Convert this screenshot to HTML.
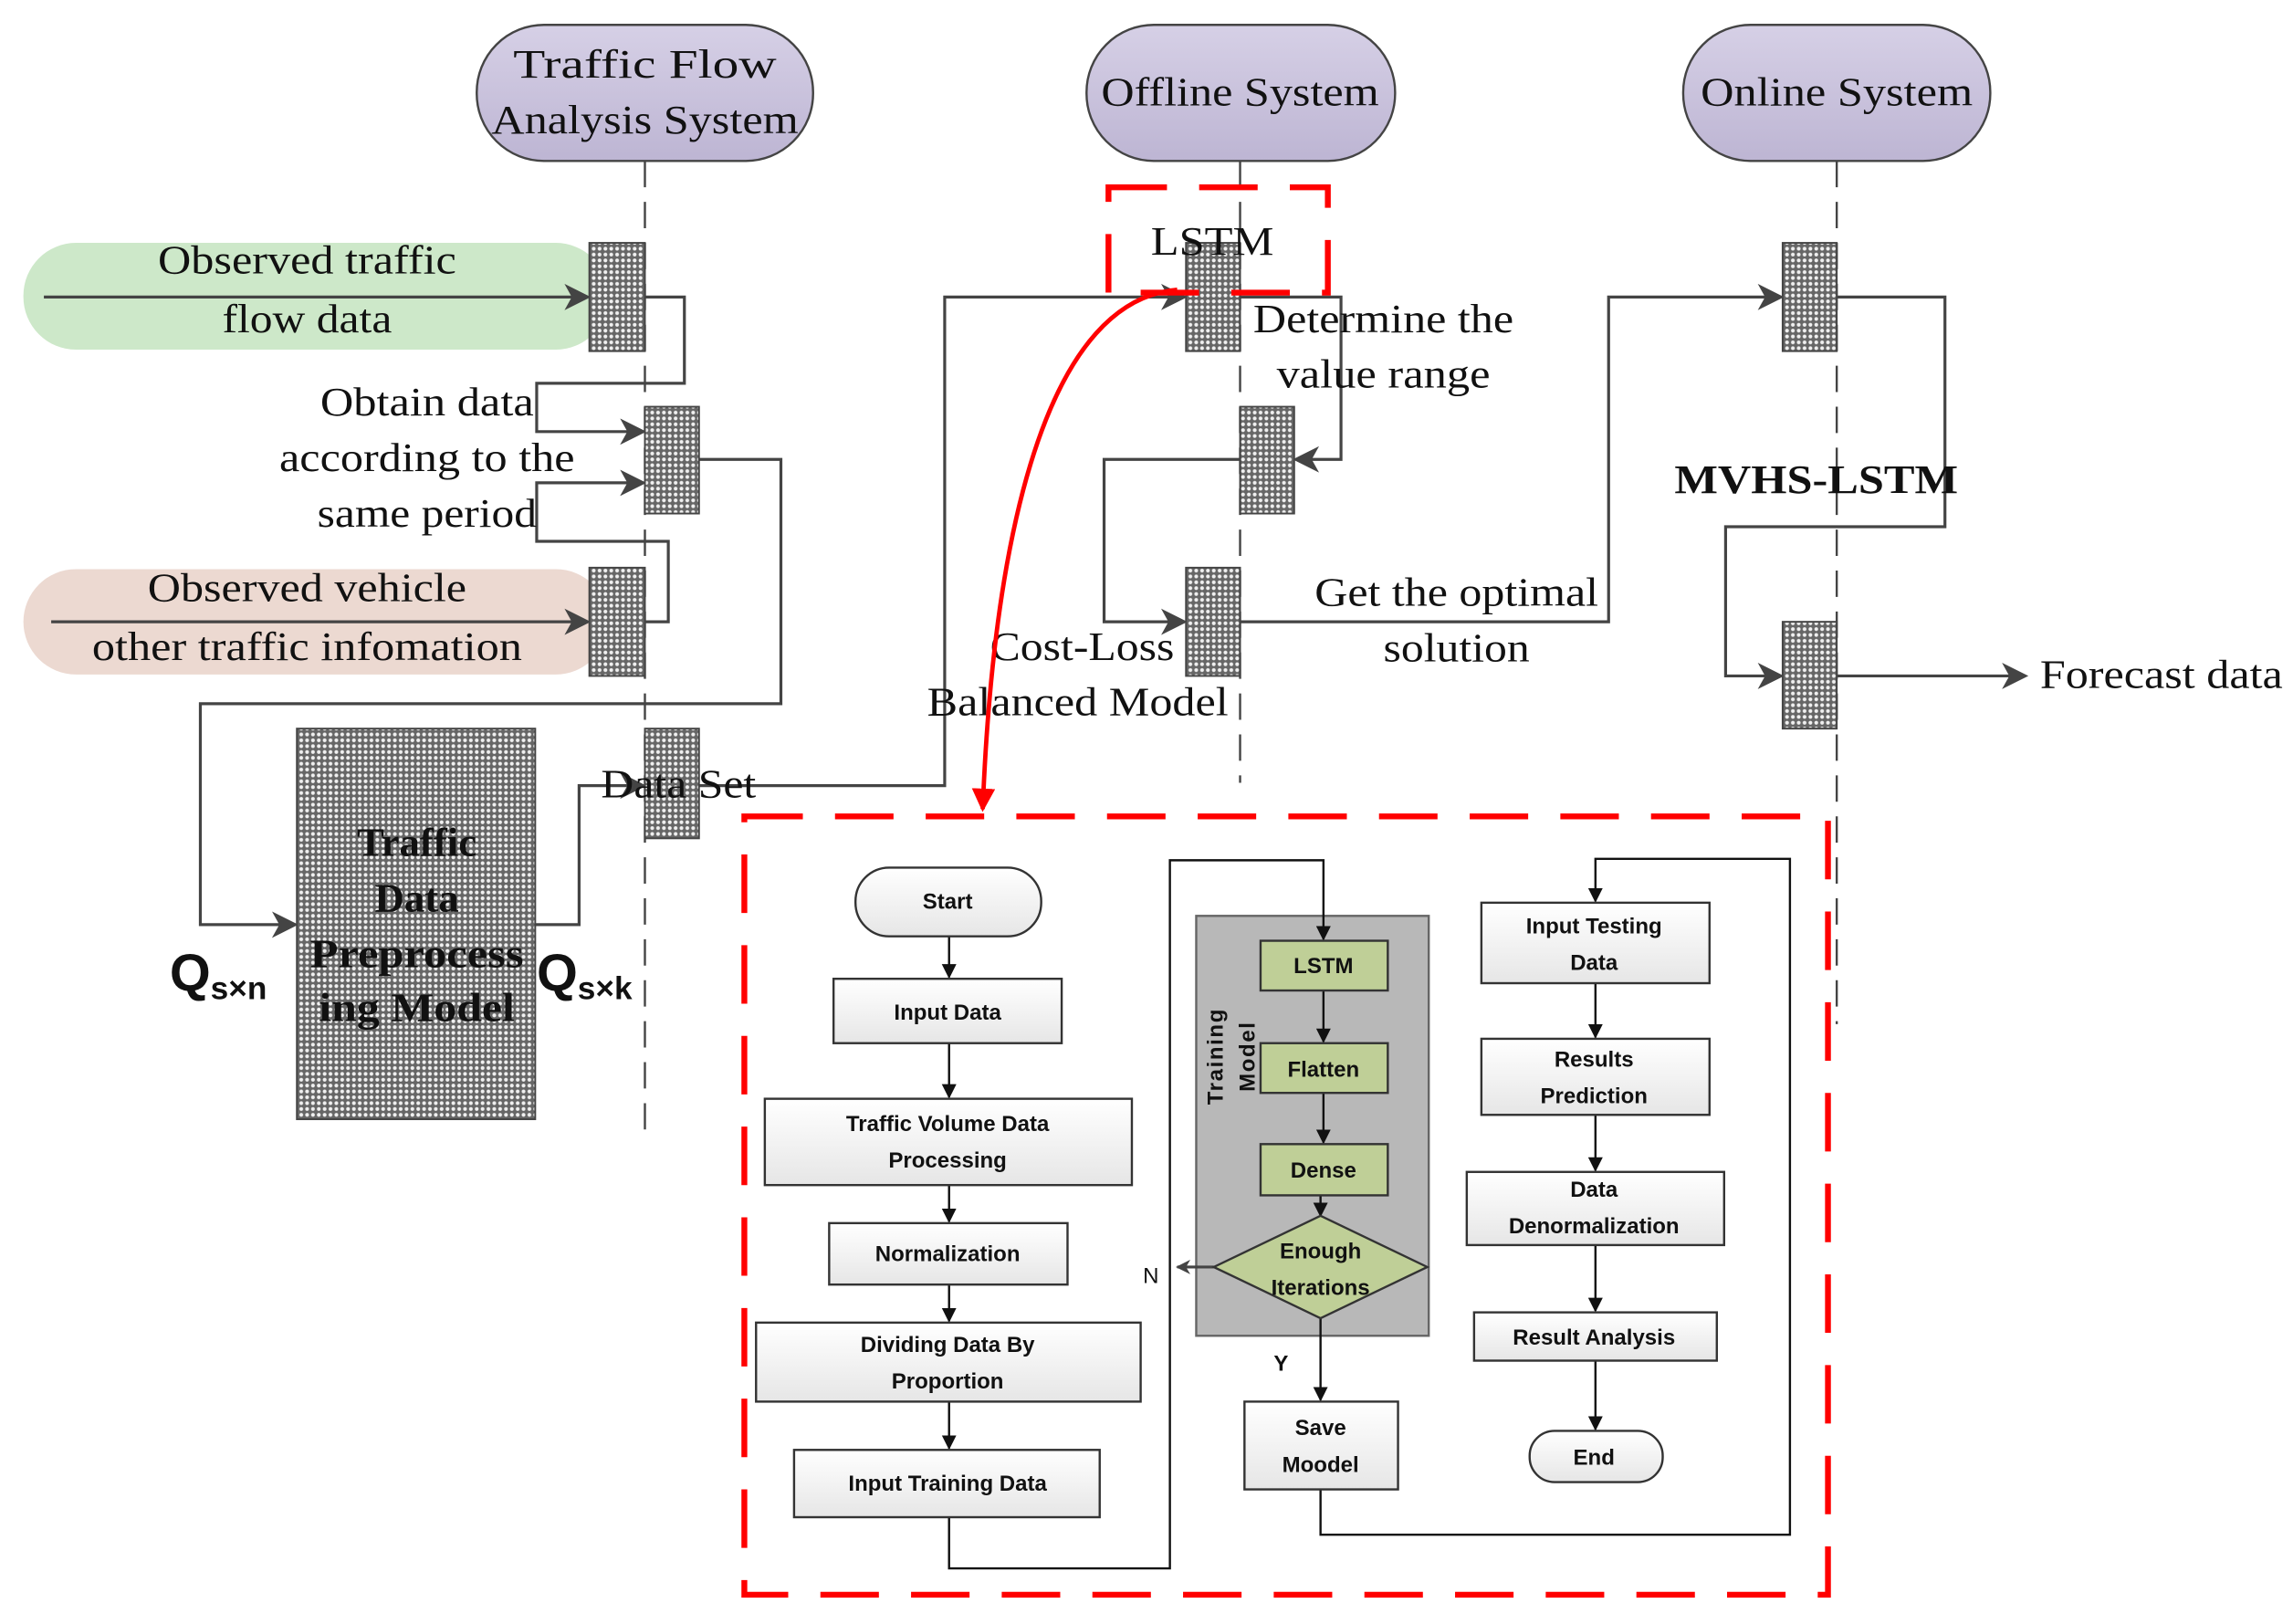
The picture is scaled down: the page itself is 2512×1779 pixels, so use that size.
<!DOCTYPE html>
<html><head><meta charset="utf-8"><style>
html,body{margin:0;padding:0;background:#fff;width:2512px;height:1779px;overflow:hidden}
svg{display:block}
.s{font-family:"Liberation Serif",serif;fill:#111}
.f{font-family:"Liberation Sans",sans-serif;font-weight:bold;fill:#111;font-size:15px}
</style></head><body>
<svg width="2512" height="1779" viewBox="0 0 1568 1110" preserveAspectRatio="none" xmlns="http://www.w3.org/2000/svg">
<defs>
<pattern id="dots" width="4" height="4" patternUnits="userSpaceOnUse">
<rect width="4" height="4" fill="#666"/><circle cx="2" cy="2" r="1.3" fill="#f0f0f0"/>
</pattern>
<linearGradient id="pur" x1="0" y1="0" x2="0" y2="1"><stop offset="0" stop-color="#d6d0e6"/><stop offset="1" stop-color="#bdb5d3"/></linearGradient>
<linearGradient id="wb" x1="0" y1="0" x2="0" y2="1"><stop offset="0" stop-color="#ffffff"/><stop offset="1" stop-color="#e6e6e6"/></linearGradient>
<marker id="ar" markerWidth="10" markerHeight="10" refX="9" refY="5" orient="auto" markerUnits="userSpaceOnUse"><path d="M0,0 L10,5 L0,10 L3,5 Z" fill="#444"/></marker>
<marker id="ab" markerWidth="10" markerHeight="10" refX="9" refY="5" orient="auto" markerUnits="userSpaceOnUse"><path d="M0,0 L10,5 L0,10 Z" fill="#111"/></marker>
<marker id="ar2" markerWidth="18" markerHeight="18" refX="16" refY="9" orient="auto" markerUnits="userSpaceOnUse"><path d="M0,0 L18,9 L0,18 L5,9 Z" fill="#444"/></marker>
<marker id="rr" markerWidth="16" markerHeight="16" refX="14" refY="8" orient="auto" markerUnits="userSpaceOnUse"><path d="M0,0 L16,8 L0,16 Z" fill="#f00"/></marker>
</defs>

<rect x="326" y="17" width="230" height="93" rx="46" fill="url(#pur)" stroke="#444" stroke-width="1.5"/>
<text class="s" x="441" y="53" font-size="28" text-anchor="middle" textLength="180" lengthAdjust="spacingAndGlyphs">Traffic Flow</text>
<text class="s" x="441" y="91" font-size="28" text-anchor="middle" textLength="210" lengthAdjust="spacingAndGlyphs">Analysis System</text>
<rect x="743" y="17" width="211" height="93" rx="46" fill="url(#pur)" stroke="#444" stroke-width="1.5"/>
<text class="s" x="848" y="72" font-size="28" text-anchor="middle" textLength="190" lengthAdjust="spacingAndGlyphs">Offline System</text>
<rect x="1151" y="17" width="210" height="93" rx="46" fill="url(#pur)" stroke="#444" stroke-width="1.5"/>
<text class="s" x="1256" y="72" font-size="28" text-anchor="middle" textLength="186" lengthAdjust="spacingAndGlyphs">Online System</text>

<g stroke="#444" stroke-width="1.5" stroke-dasharray="18,10" fill="none">
<line x1="441" y1="110" x2="441" y2="775"/>
<line x1="848" y1="110" x2="848" y2="535"/>
<line x1="1256" y1="110" x2="1256" y2="700"/>
</g>

<rect x="16" y="166" width="400" height="73" rx="36" fill="#cde8c9"/>
<rect x="16" y="389" width="400" height="72" rx="36" fill="#ecd9d1"/>
<text class="s" x="210" y="187" font-size="28" text-anchor="middle" textLength="204" lengthAdjust="spacingAndGlyphs">Observed traffic</text>
<text class="s" x="210" y="227" font-size="28" text-anchor="middle" textLength="116" lengthAdjust="spacingAndGlyphs">flow data</text>
<text class="s" x="210" y="411" font-size="28" text-anchor="middle" textLength="218" lengthAdjust="spacingAndGlyphs">Observed vehicle</text>
<text class="s" x="210" y="451" font-size="28" text-anchor="middle" textLength="294" lengthAdjust="spacingAndGlyphs">other traffic infomation</text>

<g stroke="#444" stroke-width="2" fill="none">
<line x1="30" y1="203" x2="402" y2="203" marker-end="url(#ar2)"/>
<line x1="35" y1="425" x2="402" y2="425" marker-end="url(#ar2)"/>
<polyline points="441,203 468,203 468,262 367,262 367,295 440,295" marker-end="url(#ar2)"/>
<polyline points="441,425 457,425 457,370 367,370 367,330 440,330" marker-end="url(#ar2)"/>
<polyline points="478,314 534,314 534,481 137,481 137,632 202,632" marker-end="url(#ar2)"/>
<polyline points="366,632 396,632 396,537 440,537" marker-end="url(#ar2)"/>
<polyline points="478,537 646,537 646,203 810,203" marker-end="url(#ar2)"/>
<polyline points="848,203 917,203 917,314 886,314" marker-end="url(#ar2)"/>
<polyline points="848,314 755,314 755,425 810,425" marker-end="url(#ar2)"/>
<polyline points="848,425 1100,425 1100,203 1218,203" marker-end="url(#ar2)"/>
<polyline points="1256,203 1330,203 1330,360 1180,360 1180,462 1218,462" marker-end="url(#ar2)"/>
<line x1="1256" y1="462" x2="1385" y2="462" marker-end="url(#ar2)"/>
</g>

<g fill="url(#dots)" stroke="#444" stroke-width="1.2">
<rect x="403" y="166" width="38" height="74"/>
<rect x="441" y="278" width="37" height="73"/>
<rect x="403" y="388" width="38" height="74"/>
<rect x="441" y="498" width="37" height="75"/>
<rect x="203" y="498" width="163" height="267"/>
<rect x="811" y="166" width="37" height="74"/>
<rect x="848" y="278" width="37" height="73"/>
<rect x="811" y="388" width="37" height="74"/>
<rect x="1219" y="166" width="37" height="74"/>
<rect x="1219" y="425" width="37" height="73"/>
</g>

<text class="s" x="292" y="284" font-size="28" text-anchor="middle" textLength="146" lengthAdjust="spacingAndGlyphs">Obtain data</text>
<text class="s" x="292" y="322" font-size="28" text-anchor="middle" textLength="202" lengthAdjust="spacingAndGlyphs">according to the</text>
<text class="s" x="292" y="360" font-size="28" text-anchor="middle" textLength="150" lengthAdjust="spacingAndGlyphs">same period</text>
<text class="s" x="464" y="545" font-size="28" text-anchor="middle" textLength="106" lengthAdjust="spacingAndGlyphs">Data Set</text>
<text class="s" x="285" y="585" font-size="28" font-weight="bold" text-anchor="middle">Traffic</text>
<text class="s" x="285" y="623" font-size="28" font-weight="bold" text-anchor="middle">Data</text>
<text class="s" x="285" y="661" font-size="28" font-weight="bold" text-anchor="middle" textLength="146" lengthAdjust="spacingAndGlyphs">Preprocess</text>
<text class="s" x="285" y="698" font-size="28" font-weight="bold" text-anchor="middle" textLength="134" lengthAdjust="spacingAndGlyphs">ing Model</text>
<text x="116" y="677" font-family="Liberation Sans,sans-serif" font-weight="bold" font-size="36" fill="#111">Q<tspan font-size="22" dy="6">s×n</tspan></text>
<text x="367" y="677" font-family="Liberation Sans,sans-serif" font-weight="bold" font-size="36" fill="#111">Q<tspan font-size="22" dy="6">s×k</tspan></text>
<text class="s" x="829" y="174" font-size="28" text-anchor="middle" textLength="84" lengthAdjust="spacingAndGlyphs">LSTM</text>
<text class="s" x="946" y="227" font-size="28" text-anchor="middle" textLength="178" lengthAdjust="spacingAndGlyphs">Determine the</text>
<text class="s" x="946" y="265" font-size="28" text-anchor="middle" textLength="146" lengthAdjust="spacingAndGlyphs">value range</text>
<text class="s" x="740" y="451" font-size="28" text-anchor="middle" textLength="126" lengthAdjust="spacingAndGlyphs">Cost-Loss</text>
<text class="s" x="737" y="489" font-size="28" text-anchor="middle" textLength="206" lengthAdjust="spacingAndGlyphs">Balanced Model</text>
<text class="s" x="996" y="414" font-size="28" text-anchor="middle" textLength="194" lengthAdjust="spacingAndGlyphs">Get the optimal</text>
<text class="s" x="996" y="452" font-size="28" text-anchor="middle" textLength="100" lengthAdjust="spacingAndGlyphs">solution</text>
<text class="s" x="1242" y="337" font-size="28" font-weight="bold" text-anchor="middle" textLength="194" lengthAdjust="spacingAndGlyphs">MVHS-LSTM</text>
<text class="s" x="1395" y="470" font-size="28" textLength="166" lengthAdjust="spacingAndGlyphs">Forecast data</text>

<g stroke="#f00" stroke-width="4" fill="none" stroke-dasharray="40,22">
<rect x="758" y="128" width="150" height="72"/>
<rect x="509" y="558" width="741" height="532"/>
</g>
<path d="M805 198 C 720 205, 680 350, 672 553" stroke="#f00" stroke-width="3" fill="none" marker-end="url(#rr)"/>

<rect x="818" y="626" width="159" height="287" fill="#b8b8b8" stroke="#666" stroke-width="1.5"/>
<text class="f" transform="translate(836,722) rotate(-90)" text-anchor="middle" font-size="15" letter-spacing="1">Training</text>
<text class="f" transform="translate(858,722) rotate(-90)" text-anchor="middle" font-size="15" letter-spacing="1">Model</text>

<g stroke="#111" stroke-width="1.5" fill="none">
<line x1="649" y1="640" x2="649" y2="668" marker-end="url(#ab)"/>
<line x1="649" y1="713" x2="649" y2="750" marker-end="url(#ab)"/>
<line x1="649" y1="810" x2="649" y2="835" marker-end="url(#ab)"/>
<line x1="649" y1="878" x2="649" y2="903" marker-end="url(#ab)"/>
<line x1="649" y1="958" x2="649" y2="990" marker-end="url(#ab)"/>
<polyline points="649,1037 649,1072 800,1072 800,588 905,588 905,642" marker-end="url(#ab)"/>
<line x1="905" y1="677" x2="905" y2="712" marker-end="url(#ab)"/>
<line x1="905" y1="747" x2="905" y2="781" marker-end="url(#ab)"/>
<line x1="903" y1="817" x2="903" y2="831" marker-end="url(#ab)"/>
<line x1="903" y1="901" x2="903" y2="957" marker-end="url(#ab)"/>
<polyline points="903,1018 903,1049 1224,1049 1224,587 1091,587 1091,616" marker-end="url(#ab)"/>
<line x1="1091" y1="672" x2="1091" y2="709" marker-end="url(#ab)"/>
<line x1="1091" y1="762" x2="1091" y2="800" marker-end="url(#ab)"/>
<line x1="1091" y1="851" x2="1091" y2="896" marker-end="url(#ab)"/>
<line x1="1091" y1="930" x2="1091" y2="977" marker-end="url(#ab)"/>
</g>
<line x1="830" y1="866" x2="805" y2="866" stroke="#444" stroke-width="2" marker-end="url(#ar)"/>

<g stroke="#333" stroke-width="1.5" fill="url(#wb)">
<rect x="585" y="593" width="127" height="47" rx="23"/>
<rect x="570" y="669" width="156" height="44"/>
<rect x="523" y="751" width="251" height="59"/>
<rect x="567" y="836" width="163" height="42"/>
<rect x="517" y="904" width="263" height="54"/>
<rect x="543" y="991" width="209" height="46"/>
<rect x="851" y="958" width="105" height="60"/>
<rect x="1013" y="617" width="156" height="55"/>
<rect x="1013" y="710" width="156" height="52"/>
<rect x="1003" y="801" width="176" height="50"/>
<rect x="1008" y="897" width="166" height="33"/>
<rect x="1046" y="978" width="91" height="35" rx="17"/>
</g>
<g stroke="#333" stroke-width="1.5" fill="#bfcf97">
<rect x="862" y="643" width="87" height="34"/>
<rect x="862" y="713" width="87" height="34"/>
<rect x="862" y="782" width="87" height="35"/>
<polygon points="903,831 976,866 903,901 830,866"/>
</g>

<g class="f" text-anchor="middle">
<text x="648" y="621">Start</text>
<text x="648" y="697">Input Data</text>
<text x="648" y="773">Traffic Volume Data</text>
<text x="648" y="798">Processing</text>
<text x="648" y="862">Normalization</text>
<text x="648" y="924">Dividing Data By</text>
<text x="648" y="949">Proportion</text>
<text x="648" y="1019">Input Training Data</text>
<text x="905" y="665">LSTM</text>
<text x="905" y="736">Flatten</text>
<text x="905" y="805">Dense</text>
<text x="903" y="860">Enough</text>
<text x="903" y="885">Iterations</text>
<text x="903" y="981">Save</text>
<text x="903" y="1006">Moodel</text>
<text x="1090" y="638">Input Testing</text>
<text x="1090" y="663">Data</text>
<text x="1090" y="729">Results</text>
<text x="1090" y="754">Prediction</text>
<text x="1090" y="818">Data</text>
<text x="1090" y="843">Denormalization</text>
<text x="1090" y="919">Result Analysis</text>
<text x="1090" y="1001">End</text>
</g>
<text x="787" y="877" font-family="Liberation Sans,sans-serif" font-size="15" fill="#111" text-anchor="middle">N</text>
<text x="876" y="937" font-family="Liberation Sans,sans-serif" font-weight="bold" font-size="15" fill="#111" text-anchor="middle">Y</text>
</svg>
</body></html>
